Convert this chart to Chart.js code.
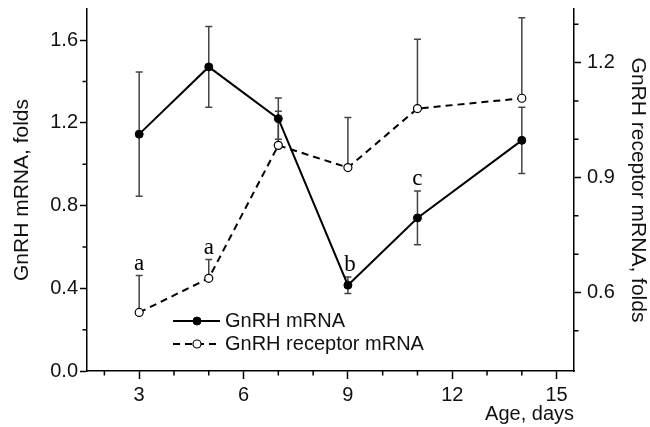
<!DOCTYPE html>
<html>
<head>
<meta charset="utf-8">
<script src="https://cdn.jsdelivr.net/npm/chart.js@4.4.1/dist/chart.umd.min.js"></script>
<style>
  html, body { margin: 0; padding: 0; background: #fff; }
  #wrap { width: 650px; height: 427px; }
</style>
</head>
<body>
<div id="wrap"><canvas id="chart"></canvas></div>
<script>
// age in days
const days = [3, 5, 7, 9, 11, 14];

// GnRH mRNA (left axis), mean and SE
const gnrh = [1.145, 1.47, 1.22, 0.415, 0.74, 1.115];
const gnrhErr = [0.30, 0.195, 0.10, 0.04, 0.13, 0.16];

// GnRH receptor mRNA (right axis), mean and SE (only upper bar drawn)
const receptor = [0.548, 0.637, 0.984, 0.926, 1.08, 1.107];
const receptorErr = [0.096, 0.049, 0.089, 0.131, 0.181, 0.21];

// significance letters: day, letter, which series (0 = GnRH, 1 = receptor)
const letterDays = [3, 5, 9, 11];
const letterText = ['a', 'a', 'b', 'c'];
const letterSeries = [1, 1, 0, 0];

// tick values
const xTicks = [3, 6, 9, 12, 15];
const xMinor = [2, 4, 5, 7, 8, 10, 11, 13, 14];
const leftTicks = [0, 0.4, 0.8, 1.2, 1.6];
const leftMinor = [0.2, 0.6, 1.0, 1.4];
const rightTicks = [0.6, 0.9, 1.2];
const rightMinor = [0.5, 0.7, 0.8, 1.0, 1.1, 1.3];

const sans = "'Liberation Sans', Arial, sans-serif";
const ink = '#111';

const errorBars = {
  id: 'errorBars',
  beforeDatasetsDraw(chart) {
    const ctx = chart.ctx;
    const xs = chart.scales.x;
    ctx.save();
    ctx.strokeStyle = '#444';
    ctx.lineWidth = 1.5;
    chart.data.datasets.forEach(ds => {
      const ys = chart.scales[ds.yAxisID];
      ds.data.forEach((p, j) => {
        const e = ds.errors[j];
        const px = xs.getPixelForValue(p.x);
        const top = ys.getPixelForValue(p.y + e);
        const bot = ds.upperOnly ? ys.getPixelForValue(p.y) : ys.getPixelForValue(p.y - e);
        ctx.beginPath();
        ctx.moveTo(px, top); ctx.lineTo(px, bot);
        ctx.moveTo(px - 3.5, top); ctx.lineTo(px + 3.5, top);
        if (!ds.upperOnly) { ctx.moveTo(px - 3.5, bot); ctx.lineTo(px + 3.5, bot); }
        ctx.stroke();
      });
    });
    ctx.restore();
  }
};

const letters = {
  id: 'letters',
  afterDatasetsDraw(chart) {
    const ctx = chart.ctx;
    ctx.save();
    ctx.font = "23px 'Liberation Serif', 'Times New Roman', serif";
    ctx.fillStyle = '#000';
    ctx.textAlign = 'center';
    ctx.textBaseline = 'alphabetic';
    letterDays.forEach((d, k) => {
      const ds = chart.data.datasets[letterSeries[k]];
      const j = days.indexOf(d);
      const ys = chart.scales[ds.yAxisID];
      const px = chart.scales.x.getPixelForValue(d);
      const top = ys.getPixelForValue(ds.data[j].y + ds.errors[j]);
      ctx.fillText(letterText[k], px + (letterText[k] === 'b' ? 2 : 0), top - 6);
    });
    ctx.restore();
  }
};

const minorTicks = {
  id: 'minorTicks',
  afterDraw(chart) {
    const ctx = chart.ctx;
    const {x, y, y1} = chart.scales;
    ctx.save();
    ctx.strokeStyle = '#000';
    ctx.lineWidth = 1.5;
    ctx.beginPath();
    xMinor.forEach(v => {
      const p = x.getPixelForValue(v);
      ctx.moveTo(p, x.top); ctx.lineTo(p, x.top + 4.5);
    });
    leftMinor.forEach(v => {
      const p = y.getPixelForValue(v);
      ctx.moveTo(y.right, p); ctx.lineTo(y.right - 4.5, p);
    });
    rightMinor.forEach(v => {
      const p = y1.getPixelForValue(v);
      ctx.moveTo(y1.left, p); ctx.lineTo(y1.left + 4.5, p);
    });
    ctx.stroke();
    ctx.restore();
  }
};

const sideLegend = {
  id: 'sideLegend',
  afterDraw(chart) {
    const ctx = chart.ctx;
    const rows = [321, 344];
    ctx.save();
    ctx.font = '20px ' + sans;
    ctx.textBaseline = 'middle';
    chart.data.datasets.forEach((ds, i) => {
      const yy = rows[i];
      ctx.strokeStyle = ds.borderColor;
      ctx.lineWidth = ds.borderWidth;
      ctx.setLineDash(ds.borderDash || []);
      ctx.beginPath();
      ctx.moveTo(173, yy); ctx.lineTo(220, yy);
      ctx.stroke();
      ctx.setLineDash([]);
      ctx.beginPath();
      ctx.arc(197, yy, ds.pointRadius, 0, Math.PI * 2);
      ctx.fillStyle = ds.pointBackgroundColor;
      ctx.fill();
      ctx.lineWidth = ds.pointBorderWidth;
      ctx.strokeStyle = ds.pointBorderColor;
      ctx.stroke();
      ctx.fillStyle = ink;
      ctx.fillText(ds.label, 225, yy);
    });
    ctx.restore();
  }
};

function fixBox(w, h) {
  return scale => {
    if (w != null) scale.width = w;
    if (h != null) scale.height = h;
    scale.paddingTop = 0; scale.paddingBottom = 0;
    scale.paddingLeft = 0; scale.paddingRight = 0;
  };
}

new Chart(document.getElementById('chart'), {
  type: 'line',
  data: {
    datasets: [{
      label: 'GnRH mRNA',
      data: days.map((d, i) => ({x: d, y: gnrh[i]})),
      errors: gnrhErr,
      upperOnly: false,
      yAxisID: 'y',
      borderColor: '#000',
      borderWidth: 2,
      pointRadius: 4,
      pointBackgroundColor: '#000',
      pointBorderColor: '#000',
      pointBorderWidth: 1,
      tension: 0
    }, {
      label: 'GnRH receptor mRNA',
      data: days.map((d, i) => ({x: d, y: receptor[i]})),
      errors: receptorErr,
      upperOnly: true,
      yAxisID: 'y1',
      borderColor: '#000',
      borderWidth: 2,
      borderDash: [7, 5],
      pointRadius: 4,
      pointBackgroundColor: '#fff',
      pointBorderColor: '#000',
      pointBorderWidth: 1.2,
      tension: 0
    }]
  },
  options: {
    responsive: true,
    maintainAspectRatio: false,
    animation: false,
    events: [],
    layout: { padding: { top: 9, left: 0, right: 0, bottom: 0 } },
    plugins: {
      legend: { display: false },
      tooltip: { enabled: false }
    },
    scales: {
      x: {
        type: 'linear',
        min: 1.5,
        max: 15.5,
        afterBuildTicks: s => { s.ticks = xTicks.map(v => ({value: v})); },
        afterFit: fixBox(null, 56),
        border: { display: true, color: '#000', width: 1.5 },
        grid: { drawOnChartArea: false, drawTicks: true, tickLength: 8, tickColor: '#000', tickWidth: 1.5 },
        ticks: { color: ink, font: { family: sans, size: 20 }, padding: 4, maxRotation: 0 },
        title: { display: true, text: 'Age, days', align: 'end', color: ink,
                 font: { family: sans, size: 20 }, padding: { top: 0, bottom: 1 } }
      },
      y: {
        position: 'left',
        min: 0,
        max: 1.75,
        afterBuildTicks: s => { s.ticks = leftTicks.map(v => ({value: v})); },
        afterFit: fixBox(87, null),
        border: { display: true, color: '#000', width: 1.5 },
        grid: { drawOnChartArea: false, drawTicks: true, tickLength: 7, tickColor: '#000', tickWidth: 1.5 },
        ticks: { color: ink, font: { family: sans, size: 20 }, padding: 2,
                 callback: v => v.toFixed(1) },
        title: { display: true, text: 'GnRH mRNA, folds', color: ink,
                 font: { family: sans, size: 21 }, padding: { top: 10, bottom: 0 } }
      },
      y1: {
        position: 'right',
        min: 0.395,
        max: 1.34,
        afterBuildTicks: s => { s.ticks = rightTicks.map(v => ({value: v})); },
        afterFit: fixBox(76, null),
        border: { display: true, color: '#000', width: 1.5 },
        grid: { drawOnChartArea: false, drawTicks: true, tickLength: 7, tickColor: '#000', tickWidth: 1.5 },
        ticks: { color: ink, font: { family: sans, size: 20 }, padding: 6,
                 callback: v => v.toFixed(1) },
        title: { display: true, text: 'GnRH receptor mRNA, folds', color: ink,
                 font: { family: sans, size: 21 }, padding: { top: 0, bottom: 0 } }
      }
    }
  },
  plugins: [errorBars, letters, minorTicks, sideLegend]
});
</script>
</body>
</html>
